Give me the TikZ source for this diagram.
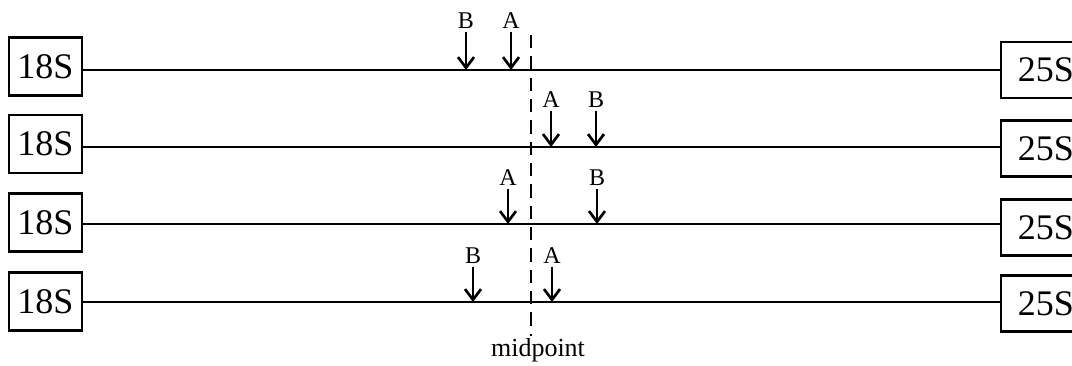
\documentclass[tikz,border=0pt]{standalone}
\usepackage{fontspec}
\setmainfont{Liberation Serif}
\usetikzlibrary{arrows.meta}

\tikzset{every picture/.style={line width=0.75pt}}
\tikzset{
  leftbox/.style={draw, line width=1.6pt, minimum width=54.75pt, minimum height=43.5pt, inner sep=0pt, font=\fontsize{27}{27}\selectfont},
  rightbox/.style={draw, line width=1.6pt, minimum width=67.5pt, minimum height=42pt, inner sep=0pt, font=\fontsize{27}{27}\selectfont},
  siteline/.style={line width=1.6pt},
  sitelbl/.style={inner sep=2pt, font=\fontsize{18}{18}\selectfont},
  cutarrow/.style={line width=2pt, -{Straight Barb[length=8pt,width=12pt,line width=2pt]}},
  midline/.style={line width=2.2pt, dash pattern={on 10pt off 6pt}}
}

\begin{document}
\begin{tikzpicture}[x=0.75pt,y=0.75pt,yscale=-1,xscale=1]
  \useasboundingbox (0,0) rectangle (1072,366);

  %Row heights
  \coordinate (y1) at (0,70);
  \coordinate (y2) at (0,147);
  \coordinate (y3) at (0,224);
  \coordinate (y4) at (0,302);

  % End boxes
  \node [leftbox] (l1) at (45.5,66.5) {18S};
  \node [leftbox] (l2) at (45.5,144) {18S};
  \node [leftbox] (l3) at (45.5,222.5) {18S};
  \node [leftbox] (l4) at (45.5,301.5) {18S};
  \node [rightbox] (r1) at (1046,70) {25S};
  \node [rightbox] (r2) at (1046,148.5) {25S};
  \node [rightbox] (r3) at (1046,227.5) {25S};
  \node [rightbox] (r4) at (1046,303.5) {25S};

  %Straight Lines
  \draw [siteline] (l1.east |- y1) -- (r1.west |- y1);
  \draw [siteline] (l2.east |- y2) -- (r2.west |- y2);
  \draw [siteline] (l3.east |- y3) -- (r3.west |- y3);
  \draw [siteline] (l4.east |- y4) -- (r4.west |- y4);

  % Text Node
  \node [sitelbl] (b1) at (466,20.5) {B};
  \node [sitelbl] (a1) at (511,20.5) {A};
  \node [sitelbl] (a2) at (551,99.5) {A};
  \node [sitelbl] (b2) at (596,99.5) {B};
  \node [sitelbl] (a3) at (508,177.5) {A};
  \node [sitelbl] (b3) at (597,177.5) {B};
  \node [sitelbl] (b4) at (473,255.5) {B};
  \node [sitelbl] (a4) at (552,255.5) {A};

  %Arrows
  \draw [cutarrow] (b1.south) -- (b1.south |- y1);
  \draw [cutarrow] (a1.south) -- (a1.south |- y1);
  \draw [cutarrow] (a2.south) -- (a2.south |- y2);
  \draw [cutarrow] (b2.south) -- (b2.south |- y2);
  \draw [cutarrow] (a3.south) -- (a3.south |- y3);
  \draw [cutarrow] (b3.south) -- (b3.south |- y3);
  \draw [cutarrow] (b4.south) -- (b4.south |- y4);
  \draw [cutarrow] (a4.south) -- (a4.south |- y4);

  % Midpoint
  \node [inner sep=1pt, font=\fontsize{19.5}{19.5}\selectfont] (mid) at (538,350) {midpoint};
  \coordinate (midtop) at (531,35);
  \draw [midline] (midtop) -- (midtop |- mid.north);
\end{tikzpicture}
\end{document}
